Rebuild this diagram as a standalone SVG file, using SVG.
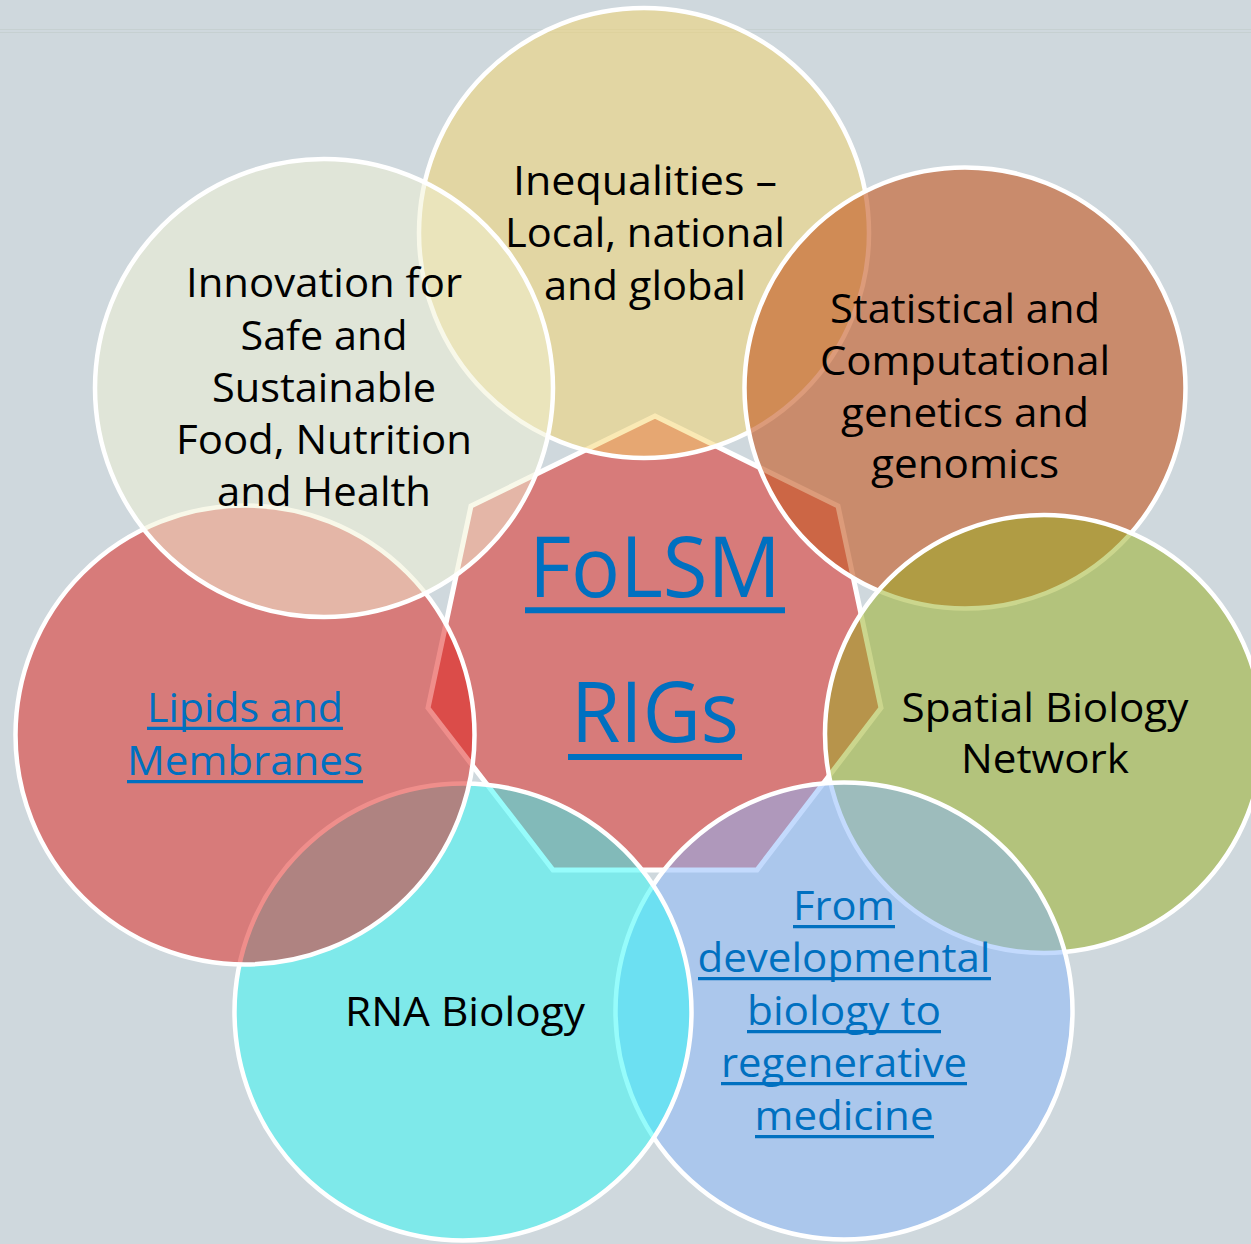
<svg xmlns="http://www.w3.org/2000/svg" width="1251" height="1244" viewBox="0 0 1251 1244">
<style>
.c{stroke:#ffffff;stroke-width:4.5}
.t{font-family:"Open Sans","Noto Sans","Liberation Sans",sans-serif;font-size:40px;text-anchor:middle;fill:#000000}
.lk{fill:#0070c0}
.big{font-size:85px}
.ul{stroke:#0070c0;stroke-width:3.2}
.ulb{stroke:#0070c0;stroke-width:6}
</style>
<rect x="0" y="0" width="1251" height="1244" fill="#cfd8dd"/>
<rect x="0" y="29" width="1251" height="1" fill="#c6d0d1"/>
<rect x="0" y="32" width="1251" height="1" fill="#c6d0d1"/>

<g id="center-folsm-rigs">
<polygon points="655,416 838,506 881,708 757,870 553,870 428,708 471,506" fill="#df1e17" fill-opacity="0.5" stroke="#ffffff" stroke-width="5" stroke-linejoin="miter"/>
<text class="t lk big" x="655" y="597" textLength="252" lengthAdjust="spacingAndGlyphs">FoLSM</text>
<line class="ulb" x1="525" y1="610.3" x2="785" y2="610.3"/>
<text class="t lk big" x="655" y="742" textLength="168" lengthAdjust="spacingAndGlyphs">RIGs</text>
<line class="ulb" x1="568" y1="757" x2="742" y2="757"/>
</g>

<g id="node-inequalities">
<circle class="c" cx="644" cy="233" r="225" fill="#f5d469" fill-opacity="0.5"/>
<text class="t" x="645" y="194.5" textLength="264" lengthAdjust="spacingAndGlyphs">Inequalities –</text>
<text class="t" x="645" y="247.3" textLength="280" lengthAdjust="spacingAndGlyphs">Local, national</text>
<text class="t" x="645" y="299.5" textLength="202" lengthAdjust="spacingAndGlyphs">and global</text>
</g>

<g id="node-statistical">
<circle class="c" cx="965" cy="388" r="220.5" fill="#c55922" fill-opacity="0.6"/>
<text class="t" x="965" y="323.3" textLength="270" lengthAdjust="spacingAndGlyphs">Statistical and</text>
<text class="t" x="965" y="375" textLength="290" lengthAdjust="spacingAndGlyphs">Computational</text>
<text class="t" x="965" y="426.7" textLength="248" lengthAdjust="spacingAndGlyphs">genetics and</text>
<text class="t" x="965" y="478.3" textLength="188" lengthAdjust="spacingAndGlyphs">genomics</text>
</g>

<g id="node-spatial">
<circle class="c" cx="1044" cy="734" r="219" fill="#97ae1b" fill-opacity="0.5"/>
<text class="t" x="1045" y="721.7" textLength="287" lengthAdjust="spacingAndGlyphs">Spatial Biology</text>
<text class="t" x="1045" y="773.3" textLength="168" lengthAdjust="spacingAndGlyphs">Network</text>
</g>

<g id="node-developmental">
<circle class="c" cx="844" cy="1011" r="228.5" fill="#87b6fb" fill-opacity="0.5"/>
<text class="t lk" x="844" y="920" textLength="102" lengthAdjust="spacingAndGlyphs">From</text>
<line class="ul" x1="793" y1="926.7" x2="895" y2="926.7"/>
<text class="t lk" x="844" y="972" textLength="293" lengthAdjust="spacingAndGlyphs">developmental</text>
<line class="ul" x1="698" y1="978.7" x2="991" y2="978.7"/>
<text class="t lk" x="844" y="1025" textLength="194" lengthAdjust="spacingAndGlyphs">biology to</text>
<line class="ul" x1="747" y1="1031.7" x2="941" y2="1031.7"/>
<text class="t lk" x="844" y="1077" textLength="246" lengthAdjust="spacingAndGlyphs">regenerative</text>
<line class="ul" x1="721" y1="1083.7" x2="967" y2="1083.7"/>
<text class="t lk" x="844" y="1130" textLength="179" lengthAdjust="spacingAndGlyphs">medicine</text>
<line class="ul" x1="755" y1="1136.7" x2="934" y2="1136.7"/>
</g>

<g id="node-rna">
<circle class="c" cx="463" cy="1012" r="228.5" fill="#2dfaf7" fill-opacity="0.5"/>
<text class="t" x="465" y="1026" textLength="240" lengthAdjust="spacingAndGlyphs">RNA Biology</text>
</g>

<g id="node-lipids">
<circle class="c" cx="245" cy="735" r="229.5" fill="#df1e17" fill-opacity="0.5"/>
<text class="t lk" x="245" y="721.7" textLength="196" lengthAdjust="spacingAndGlyphs">Lipids and</text>
<line class="ul" x1="147" y1="728.4" x2="343" y2="728.4"/>
<text class="t lk" x="245" y="775" textLength="236" lengthAdjust="spacingAndGlyphs">Membranes</text>
<line class="ul" x1="127" y1="781.7" x2="363" y2="781.7"/>
</g>

<g id="node-innovation">
<circle class="c" cx="324" cy="388" r="229" fill="#f1f2d3" fill-opacity="0.5"/>
<text class="t" x="324" y="296.7" textLength="276" lengthAdjust="spacingAndGlyphs">Innovation for</text>
<text class="t" x="324" y="350" textLength="167" lengthAdjust="spacingAndGlyphs">Safe and</text>
<text class="t" x="324" y="401.7" textLength="224" lengthAdjust="spacingAndGlyphs">Sustainable</text>
<text class="t" x="324" y="454" textLength="296" lengthAdjust="spacingAndGlyphs">Food, Nutrition</text>
<text class="t" x="324" y="506" textLength="214" lengthAdjust="spacingAndGlyphs">and Health</text>
</g>

<g id="connectors"></g>
</svg>
